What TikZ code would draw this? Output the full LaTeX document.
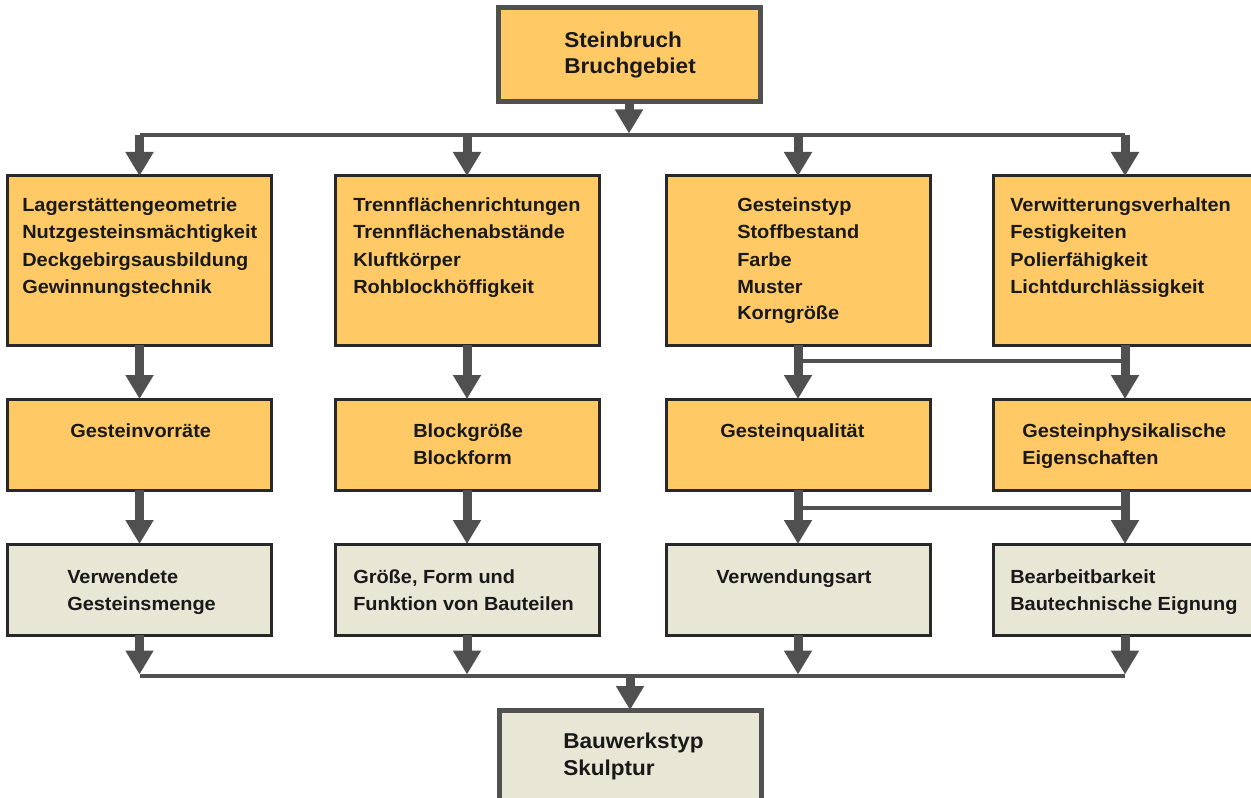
\documentclass[tikz,border=0pt]{standalone}
\usepackage{fontspec}
\setmainfont{Liberation Sans}[FakeStretch=1.05]
\usetikzlibrary{arrows.meta}
\definecolor{boxorange}{RGB}{255,201,102}
\definecolor{boxlight}{RGB}{232,230,213}
\definecolor{arrgray}{RGB}{80,80,80}
\definecolor{edgedark}{RGB}{40,40,40}
\definecolor{txtdark}{RGB}{25,25,25}
\begin{document}
\begin{tikzpicture}[x=0.75pt,y=-0.75pt,
  orangebox/.style={draw=edgedark,line width=2.25pt,fill=boxorange,minimum width=198pt,inner sep=0pt,outer sep=0pt},
  lightbox/.style={draw=edgedark,line width=2.25pt,fill=boxlight,minimum width=198pt,minimum height=68.25pt,inner sep=0pt,outer sep=0pt},
  bigbox/.style={draw=arrgray,line width=3.75pt,minimum width=196.5pt,minimum height=70.5pt,inner sep=0pt,outer sep=0pt},
  rowone/.style={orangebox,minimum height=126.75pt},
  rowtwo/.style={orangebox,minimum height=68.25pt},
  txt/.style={anchor=base west,align=left,inner sep=0pt,text=txtdark,font=\bfseries\fontsize{14.25pt}{20.25pt}\selectfont},
  bigtxt/.style={anchor=base west,align=left,inner sep=0pt,text=txtdark,font=\bfseries\fontsize{16.1pt}{20pt}\selectfont},
  arr/.style={draw=arrgray,line width=6.75pt,-{Triangle[width=20pt,length=18pt]}},
  busline/.style={draw=arrgray,line width=3pt},
]
\useasboundingbox (0,0) rectangle (1251,798);
% boxes
\node[bigbox,fill=boxorange] (top) at (629,55) {};
\node[rowone] (a1) at (139.5,260.5) {};
\node[rowone] (a2) at (467,260.5) {};
\node[rowone] (a3) at (798,260.5) {};
\node[rowone] (a4) at (1125,260.5) {};
\node[rowtwo] (b1) at (139.5,444.5) {};
\node[rowtwo] (b2) at (467,444.5) {};
\node[rowtwo] (b3) at (798,444.5) {};
\node[rowtwo] (b4) at (1125,444.5) {};
\node[lightbox] (c1) at (139.5,589.5) {};
\node[lightbox] (c2) at (467,589.5) {};
\node[lightbox] (c3) at (798,589.5) {};
\node[lightbox] (c4) at (1125,589.5) {};
\node[bigbox,fill=boxlight] (bot) at (630,757) {};
% texts (anchor = baseline of the last line)
\node[bigtxt] (ttop) at (564,73.7) {Steinbruch\\Bruchgebiet};
\node[txt] (ta1) at (22,293) {Lagerstättengeometrie\\Nutzgesteinsmächtigkeit\\Deckgebirgsausbildung\\Gewinnungstechnik};
\node[txt] (ta2) at (353,293) {Trennflächenrichtungen\\Trennflächenabstände\\Kluftkörper\\Rohblockhöffigkeit};
\node[txt] (ta3) at (737,320) {Gesteinstyp\\Stoffbestand\\Farbe\\Muster\\Korngröße};
\node[txt] (ta4) at (1010,293) {Verwitterungsverhalten\\Festigkeiten\\Polierfähigkeit\\Lichtdurchlässigkeit};
\node[txt] (tb1) at (70,437) {Gesteinvorräte};
\node[txt] (tb2) at (413,464) {Blockgröße\\Blockform};
\node[txt] (tb3) at (720,437) {Gesteinqualität};
\node[txt] (tb4) at (1022,464) {Gesteinphysikalische\\Eigenschaften};
\node[txt] (tc1) at (67,610) {Verwendete\\Gesteinsmenge};
\node[txt] (tc2) at (353,610) {Größe, Form und\\Funktion von Bauteilen};
\node[txt] (tc3) at (716,583) {Verwendungsart};
\node[txt] (tc4) at (1010,610) {Bearbeitbarkeit\\Bautechnische Eignung};
\node[bigtxt] (tbot) at (563,775) {Bauwerkstyp\\Skulptur};
% bus coordinates
\coordinate (busT) at (0,135);
\coordinate (busTtip) at (0,133.5);
\coordinate (busB) at (0,676);
\coordinate (busBtip) at (0,674.5);
\coordinate (brA) at (0,361);
\coordinate (brB) at (0,508);
% top bus
\draw[busline] (a1.north |- busT) -- (a4.north |- busT);
\draw[arr] (top.south) -- (top.south |- busTtip);
\foreach \n in {a1,a2,a3,a4}{\draw[arr] (\n.north |- busT) -- (\n.north);}
% column arrows
\foreach \u/\v in {a1/b1,a2/b2,a3/b3,a4/b4,b1/c1,b2/c2,b3/c3,b4/c4}{\draw[arr] (\u.south) -- (\v.north);}
% branches
\draw[busline] (a3.south |- brA) -- (a4.south |- brA);
\draw[busline] (b3.south |- brB) -- (b4.south |- brB);
% bottom bus
\draw[busline] (c1.south |- busB) -- (c4.south |- busB);
\foreach \n in {c1,c2,c3,c4}{\draw[arr] (\n.south) -- (\n.south |- busBtip);}
\draw[arr] (bot.north |- busB) -- (bot.north);
\end{tikzpicture}
\end{document}
